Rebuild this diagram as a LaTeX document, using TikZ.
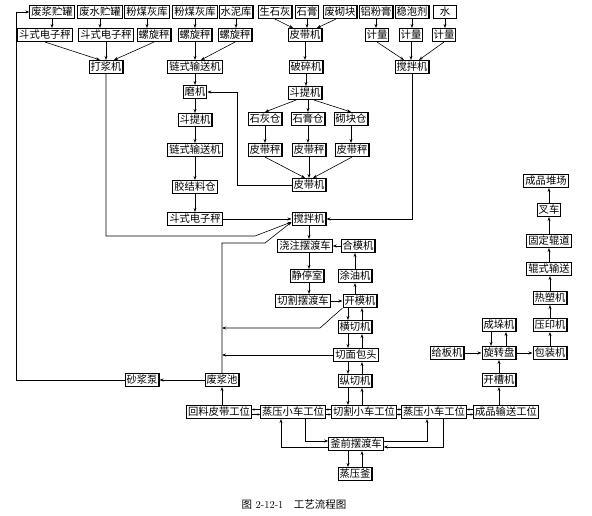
\documentclass[tikz,border=0pt]{standalone}
\usepackage{fontspec}
\newfontfamily\cjk{Noto Sans CJK SC}
\usetikzlibrary{arrows.meta}

\begin{document}
\begin{tikzpicture}[x=1pt,y=-1pt,>={Stealth[length=4pt,width=3pt]}]
\useasboundingbox (0,0) rectangle (592,516);
\begin{scope}[every node/.style={draw,line width=1.1pt,font=\cjk\fontsize{10.3}{12}\selectfont,
              inner xsep=1.5pt,inner ysep=0pt,minimum height=13pt}]
    % 原料
    \node (FJG) at (52,12) {废浆贮罐};
    \node (FSG) at (100,12) {废水贮罐};
    \node (FMH1) at (147,12) {粉煤灰库};
    \node (FMH2) at (195,12) {粉煤灰库};
    \node (SNK) at (236,12) {水泥库};
    \node (SSH) at (275,12) {生石灰};
    \node (SG) at (307,12) {石膏};
    \node (FQK) at (340,12) {废砌块};
    \node (LFG) at (376,12) {铝粉膏};
    \node (WPJ) at (412,12) {稳泡剂};
    \node[minimum width=23pt] (SH) at (445,12) {水};
    \node (DC1) at (45,35) {斗式电子秤};
    \node (DC2) at (106,35) {斗式电子秤};
    \node (LX1) at (154,35) {螺旋秤};
    \node (LX2) at (195,35) {螺旋秤};
    \node (LX3) at (235,35) {螺旋秤};
    \node (PD1) at (305,35) {皮带机};
    \node (JL1) at (377,35) {计量};
    \node (JL2) at (411,35) {计量};
    \node (JL3) at (444,35) {计量};
    \node (DJ) at (106,67) {打浆机};
    \node (LS1) at (195,67) {链式输送机};
    \node (PS) at (306,67) {破碎机};
    \node (JB1) at (412,67) {搅拌机};
    % 胶结料
    \node (MJ) at (195,92) {磨机};
    \node (DT2) at (305,93) {斗提机};
    \node (DT1) at (195,120) {斗提机};
    \node (SHC) at (265,119) {石灰仓};
    \node (SGC) at (308,119) {石膏仓};
    \node (QKC) at (351,119) {砌块仓};
    \node (LS2) at (195,150) {链式输送机};
    \node (PC1) at (265,150) {皮带秤};
    \node (PC2) at (309,150) {皮带秤};
    \node (PC3) at (352,150) {皮带秤};
    \node (JJ) at (195,187) {胶结料仓};
    \node (PD2) at (309,185) {皮带机};
    \node (DC3) at (195,219) {斗式电子秤};
    \node (JB2) at (309,219) {搅拌机};
    % 浇注与切割
    \node (JZ) at (305,246) {浇注摆渡车};
    \node (HM) at (358,246) {合模机};
    \node (JT) at (307,276) {静停室};
    \node (TY) at (355,276) {涂油机};
    \node (QG) at (303,301) {切割摆渡车};
    \node (KM) at (360,301) {开模机};
    \node (HQ) at (355,327) {横切机};
    \node (QM) at (356,355) {切面包头};
    \node (ZQ) at (355,381) {纵切机};
    \node (FJC) at (222,380) {废浆池};
    \node (SJB) at (142,380) {砂浆泵};
    % 蒸压与成品
    \node (HL) at (219,412) {回料皮带工位};
    \node (ZY1) at (293,412) {蒸压小车工位};
    \node (QX) at (364,412) {切割小车工位};
    \node (ZY2) at (434,412) {蒸压小车工位};
    \node (CS) at (506,412) {成品输送工位};
    \node (FQ) at (356,444) {釜前摆渡车};
    \node (ZYF) at (355,474) {蒸压釜};
    \node (GB) at (447,353) {给板机};
    \node (XZ) at (499,353) {旋转盘};
    \node (BZ) at (550,353) {包装机};
    \node (KC) at (499,380) {开槽机};
    \node (CD) at (499,325) {成垛机};
    \node (YY) at (550,325) {压印机};
    \node (RS) at (550,298) {热塑机};
    \node (GS) at (549,269) {辊式输送};
    \node (GD) at (549,241) {固定辊道};
    \node (CC) at (549,210) {叉车};
    \node (CP) at (546,181) {成品堆场};
\end{scope}

\node[font=\fontsize{10.5}{12}\selectfont] (CAP) at (294,505) {{\cjk 图} 2-12-1\quad{\cjk 工艺流程图}};

\coordinate (XL) at (348,0);
\coordinate (XR) at (362,0);
\coordinate (XV) at (222,0);
\coordinate (XW) at (16,0);
\coordinate (XM) at (237,0);
\coordinate (XA1) at (305,0);
\coordinate (XA2) at (281,0);
\coordinate (XB1) at (427,0);
\coordinate (XB2) at (443,0);
\coordinate (XCL) at (491,0);
\coordinate (XCR) at (506,0);
\coordinate (C2) at (255,236);
\coordinate (C3) at (265,243);
\coordinate (C4) at (320,328);

\begin{scope}[every edge/.style={draw,line width=0.6pt},line width=0.6pt]
    % 原料计量
    \path [->] (FJG.south) edge (FJG.south |- DC1.north);
    \path [->] (FSG.south) edge (FSG.south |- DC2.north);
    \path [->] (FMH1.south) edge (FMH1.south |- LX1.north);
    \path [->] (FMH2.south) edge (FMH2.south |- LX2.north);
    \path [->] (SNK.south) edge (SNK.south |- LX3.north);
    \path [->] (DC1.south) edge ([xshift=-6pt]DJ.north);
    \path [->] (DC2.south) edge (DJ.north);
    \path [->] (LX1.south) edge ([xshift=8pt]DJ.north);
    \path [->] (LX2.south) edge (LX2.south |- LS1.north);
    \path [->] (LX3.south) edge ([xshift=6pt]LS1.north);
    \path [->] (SSH.south) edge ([xshift=-12pt]PD1.north);
    \path [->] (SG.south) edge (SG.south |- PD1.north);
    \path [->] ([xshift=-4pt]FQK.south) edge ([xshift=12pt]PD1.north);
    \path [->] (LFG.south) edge (LFG.south |- JL1.north);
    \path [->] (WPJ.south) edge (WPJ.south |- JL2.north);
    \path [->] (SH.south) edge (SH.south |- JL3.north);
    \path [->] (JL1.south) edge ([xshift=-8pt]JB1.north);
    \path [->] (JL2.south) edge (JL2.south |- JB1.north);
    \path [->] (JL3.south) edge ([xshift=7pt]JB1.north);
    % 胶结料制备
    \path [->] (PD1.south) edge (PD1.south |- PS.north);
    \path [->] (PS.south) edge (PS.south |- DT2.north);
    \path [->] ([xshift=-9pt]DT2.south) edge (SHC.north);
    \path [->] (DT2.south -| SGC) edge (SGC.north);
    \path [->] ([xshift=9pt]DT2.south) edge (QKC.north);
    \path [->] (SHC.south) edge (SHC.south |- PC1.north);
    \path [->] (SGC.south) edge (SGC.south |- PC2.north);
    \path [->] (QKC.south) edge (QKC.south |- PC3.north);
    \path [->] (PC1.south) edge ([xshift=-4pt]PD2.north);
    \path [->] (PC2.south) edge (PD2.north);
    \path [->] (PC3.south) edge ([xshift=4pt]PD2.north);
    \draw [->] (PD2.west) -- (PD2.west -| XM) |- (MJ.east);
    \path [->] (LS1.south) edge (LS1.south |- MJ.north);
    \path [->] (MJ.south) edge (MJ.south |- DT1.north);
    \path [->] (DT1.south) edge (DT1.south |- LS2.north);
    \path [->] (LS2.south) edge (LS2.south |- JJ.north);
    \path [->] (JJ.south) edge (JJ.south |- DC3.north);
    \path [->] (DC3.east) edge (JB2.west);
    \draw [->] (DJ.south) |- (C2) -- ([yshift=-3pt]JB2.west);
    \draw [->] (FJC.north) |- (C3) -- ([yshift=-3pt]JB2.west);
    \draw [->] (JB1.south) |- (JB2.east);
    % 浇注 切割
    \path [->] (JB2.south) edge (JB2.south |- JZ.north);
    \path [->] (HM.west) edge (JZ.east);
    \path [->] (JZ.south -| JB2) edge (JT.north -| JB2);
    \path [->] (JT.south -| JB2) edge (QG.north -| JB2);
    \path [->] (QG.east) edge (KM.west);
    \path [->] (KM.north -| TY) edge (TY.south);
    \path [->] (TY.north) edge (TY.north |- HM.south);
    \path [->] (KM.south -| XL) edge (HQ.north -| XL);
    \path [->] (HQ.north -| XR) edge (KM.south -| XR);
    \path [->] (HQ.south -| XL) edge (QM.north -| XL);
    \path [->] (QM.north -| XR) edge (HQ.south -| XR);
    \path [->] (QM.south -| XL) edge (ZQ.north -| XL);
    \path [->] (ZQ.north -| XR) edge (QM.south -| XR);
    \path [->] (ZQ.south -| XL) edge (QX.north -| XL);
    \path [->] (QX.north -| XR) edge (ZQ.south -| XR);
    \draw [->] (KM.south west) -- (C4) -- (C4 -| XV);
    \path [->] (QM.west) edge (QM.west -| XV);
    % 废浆回收
    \path [->] (FJC.west) edge (SJB.east);
    \draw [->] (SJB.west) -- (SJB.west -| XW) |- (FJG.west);
    \path [->] (HL.north -| FJC) edge (FJC.south);
    % 蒸压
    \begin{scope}[>={Stealth[length=2.6pt,width=2.4pt]}]
    \path [->] ([yshift=2.5pt]ZY1.west) edge ([yshift=2.5pt]HL.east);
    \path [->] ([yshift=-2.5pt]HL.east) edge ([yshift=-2.5pt]ZY1.west);
    \path [->] ([yshift=2.5pt]QX.west) edge ([yshift=2.5pt]ZY1.east);
    \path [->] ([yshift=-2.5pt]ZY1.east) edge ([yshift=-2.5pt]QX.west);
    \path [->] ([yshift=2.5pt]ZY2.west) edge ([yshift=2.5pt]QX.east);
    \path [->] ([yshift=-2.5pt]QX.east) edge ([yshift=-2.5pt]ZY2.west);
    \path [->] ([yshift=2.5pt]CS.west) edge ([yshift=2.5pt]ZY2.east);
    \path [->] ([yshift=-2.5pt]ZY2.east) edge ([yshift=-2.5pt]CS.west);
    \end{scope}
    \draw [->] (ZY1.south -| XA1) |- ([yshift=3pt]FQ.west);
    \draw [->] ([yshift=-3pt]FQ.west) -| (ZY1.south -| XA2);
    \draw [->] ([yshift=3pt]FQ.east) -| (ZY2.south -| XB1);
    \draw [->] (ZY2.south -| XB2) |- ([yshift=-3pt]FQ.east);
    \path [->] (FQ.south -| XL) edge (ZYF.north -| XL);
    \path [->] (ZYF.north -| XR) edge (FQ.south -| XR);
    % 成品
    \path [->] (CS.north -| KC) edge (KC.south);
    \path [->] (KC.north) edge (XZ.south);
    \path [->] (GB.east) edge (XZ.west);
    \path [->] (XZ.east) edge (BZ.west);
    \path [->] (CD.south -| XCL) edge (XZ.north -| XCL);
    \path [->] (XZ.north -| XCR) edge (CD.south -| XCR);
    \path [->] (BZ.north) edge (YY.south);
    \path [->] (YY.north) edge (RS.south);
    \path [->] (RS.north) edge (GS.south -| RS);
    \path [->] (GS.north) edge (GD.south);
    \path [->] (GD.north) edge (CC.south);
    \path [->] (CC.north) edge (CP.south -| CC);
\end{scope}
\end{tikzpicture}
\end{document}
